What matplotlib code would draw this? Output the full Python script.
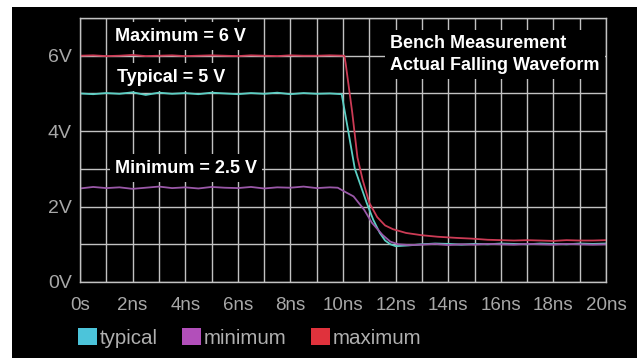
import matplotlib
matplotlib.use("Agg")
import matplotlib.pyplot as plt
from matplotlib.patches import Rectangle, Patch

plt.rcParams["font.family"] = ["Liberation Sans", "DejaVu Sans"]

# ---- waveform data (time in ns, level in V) ----
typ_t = [0.0, 0.5, 1.0, 1.5, 2.0, 2.5, 3.0, 3.5, 4.0, 4.5, 5.0, 5.5, 6.0, 6.5, 7.0, 7.5,
         8.0, 8.5, 9.0, 9.5, 9.95, 10.2, 10.45, 10.7, 10.9, 11.15, 11.4, 11.6, 11.8, 12.0,
         12.5, 13.0, 13.5, 14.0, 14.5, 15.0, 15.5, 16.0, 16.5, 17.0, 17.5, 18.0, 18.5,
         19.0, 19.5, 20.0]
typ_v = [5.00, 4.98, 5.01, 4.99, 5.03, 4.96, 5.02, 4.99, 5.01, 4.98, 5.02, 5.00, 4.98,
         5.01, 4.99, 5.02, 4.98, 5.01, 4.99, 5.00, 4.98, 4.00, 3.00, 2.50, 2.10, 1.65,
         1.30, 1.10, 1.00, 0.95, 0.97, 1.00, 1.02, 1.01, 0.99, 1.01, 1.00, 1.02, 1.01,
         1.00, 1.02, 1.01, 1.00, 1.02, 1.01, 1.02]

max_t = [0.0, 0.5, 1.0, 1.5, 2.0, 2.5, 3.0, 3.5, 4.0, 4.5, 5.0, 5.5, 6.0, 6.5, 7.0, 7.5,
         8.0, 8.5, 9.0, 9.5, 10.05, 10.1, 10.35, 10.55, 10.75, 11.0, 11.3, 11.6, 11.9,
         12.4, 13.0, 13.6, 14.3, 14.9, 15.5, 16.0, 16.5, 17.0, 17.5, 18.0, 18.5, 19.0,
         19.5, 20.0]
max_v = [6.00, 6.01, 5.99, 6.00, 6.02, 5.99, 6.00, 6.01, 5.99, 6.00, 6.01, 6.00, 5.99,
         6.01, 6.00, 5.99, 6.01, 6.00, 6.00, 6.01, 6.00, 5.80, 4.50, 3.30, 2.70, 2.10,
         1.72, 1.50, 1.40, 1.30, 1.24, 1.20, 1.17, 1.15, 1.12, 1.11, 1.10, 1.11, 1.10,
         1.09, 1.11, 1.10, 1.10, 1.11]

min_t = [0.0, 0.5, 1.0, 1.5, 2.0, 2.5, 3.0, 3.5, 4.0, 4.5, 5.0, 5.5, 6.0, 6.5, 7.0, 7.5,
         8.0, 8.5, 9.0, 9.5, 9.8, 10.0, 10.4, 10.8, 11.1, 11.5, 11.8, 12.1, 12.5, 13.0,
         13.5, 14.0, 14.5, 15.0, 15.5, 16.0, 16.5, 17.0, 17.5, 18.0, 18.5, 19.0, 19.5,
         20.0]
min_v = [2.48, 2.52, 2.49, 2.51, 2.47, 2.50, 2.53, 2.49, 2.51, 2.48, 2.52, 2.50, 2.49,
         2.52, 2.48, 2.51, 2.50, 2.53, 2.49, 2.51, 2.50, 2.42, 2.27, 1.92, 1.57, 1.25,
         1.07, 1.00, 0.98, 0.99, 1.01, 0.98, 1.00, 0.99, 1.01, 1.00, 0.99, 1.01, 1.00,
         0.99, 1.01, 1.00, 0.99, 1.00]

x_ticks = [0, 2, 4, 6, 8, 10, 12, 14, 16, 18, 20]
x_labels = ["0s", "2ns", "4ns", "6ns", "8ns", "10ns", "12ns", "14ns", "16ns", "18ns", "20ns"]
y_ticks = [0, 2, 4, 6]
y_labels = ["0V", "2V", "4V", "6V"]

series_names = ["typical", "minimum", "maximum"]
legend_colors = ["#4cc4da", "#b24fba", "#e0323c"]

W, H = 642, 361
fig = plt.figure(figsize=(W / 100, H / 100), dpi=100, facecolor="white")

# black panel behind the scope view
fig.patches.append(Rectangle((12 / W, 1 - 358 / H), (637 - 12) / W, (358 - 7) / H,
                             transform=fig.transFigure, facecolor="black",
                             edgecolor="none", zorder=-10))

ax = fig.add_axes([80 / W, 1 - 282 / H, 526 / W, 264 / H])
ax.set_facecolor("black")
ax.set_xlim(0, 20)
ax.set_ylim(0, 7)

grid_col = "#c2c2c2"
ax.set_xticks(x_ticks)
ax.set_xticklabels(x_labels)
ax.set_xticks(range(0, 21), minor=True)
ax.set_yticks(y_ticks)
ax.set_yticklabels(y_labels)
ax.set_yticks(range(0, 8), minor=True)
ax.grid(which="both", color=grid_col, lw=1.0)
ax.tick_params(which="both", length=0)
ax.tick_params(axis="x", pad=11, labelsize=13.5, labelcolor="#a8a8a8")
ax.tick_params(axis="y", pad=6, labelsize=14, labelcolor="#a8a8a8")
for s in ax.spines.values():
    s.set_color(grid_col)
    s.set_linewidth(1.0)

ax.plot(max_t, max_v, color="#cc3b55", lw=1.3)
ax.plot(typ_t, typ_v, color="#5ccfc4", lw=1.3)
ax.plot(min_t, min_v, color="#9a58a8", lw=1.3)

box = dict(boxstyle="square,pad=0.3", fc="black", ec="none")
txt = dict(color="white", fontweight="bold", fontsize=13, ha="left", va="center",
           bbox=box, zorder=5)
ax.text(1.33, 6.52, "Maximum = 6 V", **txt)
ax.text(1.41, 5.43, "Typical = 5 V", **txt)
ax.text(1.33, 3.02, "Minimum = 2.5 V", **txt)
ax.text(11.79, 6.03, "Bench Measurement\nActual Falling Waveform",
        linespacing=1.35, **txt)

handles = [Patch(facecolor=c, edgecolor="none") for c in legend_colors]
fig.legend(handles, series_names, loc="center left",
           bbox_to_anchor=(78 / W, 1 - 338 / H), ncol=3, frameon=False,
           fontsize=14.8, labelcolor="#b0b0b0", handlelength=0.9, handleheight=0.9,
           handletextpad=0.15, columnspacing=1.2, borderaxespad=0, borderpad=0)

fig.savefig("out.png", dpi=100, facecolor="white")
